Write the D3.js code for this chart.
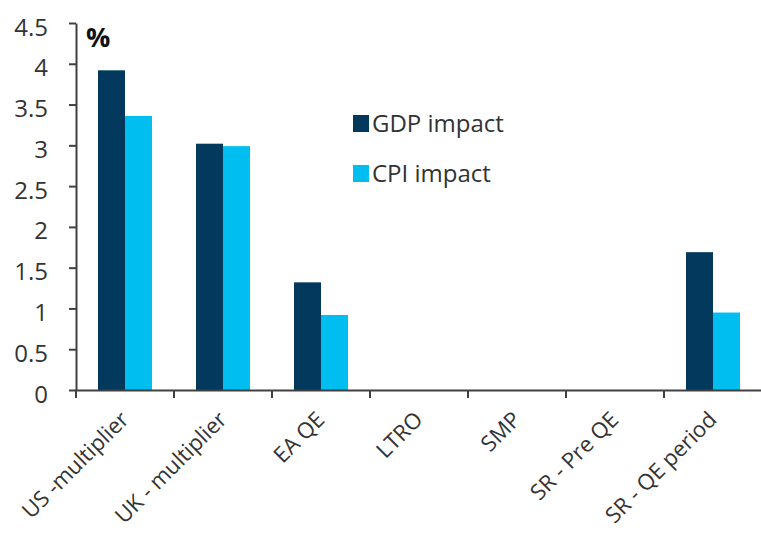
<!DOCTYPE html>
<html><head><meta charset="utf-8">
<script src="https://cdn.jsdelivr.net/npm/d3@7"></script>
<style>
body{margin:0;background:#fff;}
text{font-family:"Open Sans",sans-serif;}
</style></head>
<body><svg id="c" width="761" height="534"></svg>
<script>
const categories = ["US -multiplier","UK - multiplier","EA QE","LTRO","SMP","SR - Pre QE","SR - QE period"];
const series = ["GDP impact","CPI impact"];
const gdpValues = [3.92, 3.02, 1.32, 0, 0, 0, 1.69];
const cpiValues = [3.36, 2.99, 0.92, 0, 0, 0, 0.95];
const yTicks = [0,0.5,1,1.5,2,2.5,3,3.5,4,4.5];
const colors = {"GDP impact":"#02395C","CPI impact":"#00BEF0"};

const svg = d3.select("#c");
const x0 = 76, x1 = 762, yTop = 23, yBot = 390;
const x = d3.scaleBand().domain(categories).range([x0, x1]).paddingInner(0).paddingOuter(0);
const xs = d3.scaleBand().domain(series).range([22, x.bandwidth()-22]).padding(0);
const y = d3.scaleLinear().domain([0,4.5]).range([yBot, yTop]);

const data = categories.map((c,i)=>({cat:c, vals:[{s:"GDP impact",v:gdpValues[i]},{s:"CPI impact",v:cpiValues[i]}]}));

const g = svg.append("g").selectAll("g").data(data).join("g")
  .attr("transform", d=>`translate(${x(d.cat)},0)`);
g.selectAll("rect").data(d=>d.vals.filter(e=>e.v>0)).join("rect")
  .attr("x", d=>xs(d.s)).attr("width", xs.bandwidth())
  .attr("y", d=>y(d.v)).attr("height", d=>y(0)-y(d.v))
  .attr("fill", d=>colors[d.s]);

// y axis
const ya = svg.append("g").attr("transform",`translate(${x0},0)`)
  .call(d3.axisLeft(y).tickValues(yTicks).tickFormat(d3.format("")).tickSize(7).tickSizeOuter(0));
ya.select(".domain").attr("stroke","#404040").attr("stroke-width",2);
ya.selectAll(".tick line").attr("stroke","#404040").attr("stroke-width",2);
ya.selectAll(".tick text").attr("font-size",24).attr("fill","#333").attr("x",-28).attr("dy","0.5em").attr("font-family","Open Sans");

// x axis
const xa = svg.append("g").attr("transform",`translate(0,${yBot})`)
  .call(d3.axisBottom(x).tickSize(0).tickSizeOuter(0));
xa.select(".domain").attr("stroke","#404040").attr("stroke-width",2);
xa.selectAll(".tick line").remove();
xa.selectAll(".tick text").remove();
// boundary ticks
const bounds = categories.map(c=>x(c));
svg.append("g").selectAll("line").data(bounds).join("line")
  .attr("x1",d=>d).attr("x2",d=>d).attr("y1",yBot).attr("y2",yBot+8)
  .attr("stroke","#404040").attr("stroke-width",2);
// labels
svg.append("g").selectAll("text").data(categories).join("text")
  .attr("transform", d=>`translate(${x(d)+x.bandwidth()/2+5},${yBot+31}) rotate(-45)`)
  .attr("text-anchor","end").attr("font-size",22).attr("fill","#333")
  .text(d=>d);

// % label
svg.append("text").attr("x",86).attr("y",47).attr("font-size",27).attr("font-weight","bold").attr("fill","#111").text("%");

// legend
const lg = svg.append("g").selectAll("g").data(series).join("g")
  .attr("transform",(d,i)=>`translate(353,${115+i*50})`);
lg.append("rect").attr("width",16).attr("height",17).attr("fill",d=>colors[d]);
lg.append("text").attr("x",19).attr("y",17).attr("font-size",24).attr("fill","#333").text(d=>d);
</script></body></html>
